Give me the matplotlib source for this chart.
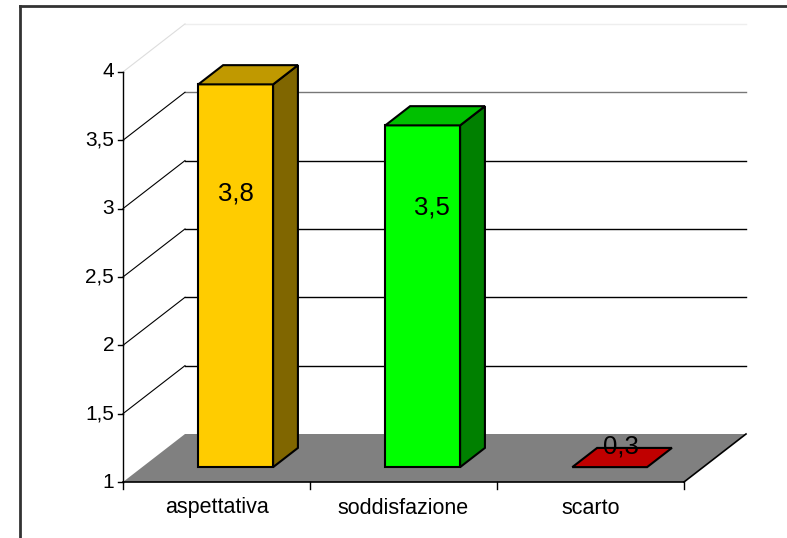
import matplotlib
matplotlib.use("Agg")
import matplotlib.pyplot as plt
from matplotlib.patches import Polygon
from matplotlib.lines import Line2D

# ---- data ----
categories = ["aspettativa", "soddisfazione", "scarto"]
values = [3.8, 3.5, 0.3]
value_labels = ["3,8", "3,5", "0,3"]
front_colors = ["#FFCC00", "#00FF00", "#FF0000"]
top_colors = ["#C09900", "#00C000", "#C00000"]
side_colors = ["#806600", "#008000", "#800000"]
yticks = [1, 1.5, 2, 2.5, 3, 3.5, 4]
ytick_labels = ["1", "1,5", "2", "2,5", "3", "3,5", "4"]
ymin, ymax = 1, 4

# ---- layout (pixel geometry of the 3-D box) ----
W, H = 787, 538
SX = 187.0     # px per category
SY = 136.7     # px per value unit
X0PX, Y0PX = 123, 482   # pixel of (category -0.5, value 1), y from top
DX = 62 / SX   # full depth offset in category units
DY = 48 / SY   # full depth offset in value units
BAR_W = 0.40
D0, D1 = 0.31, 0.71   # bar front / back depth fraction
lbl_dx = [0.0, 0.05, 0.06]
lbl_v = [3.107, 3.01, 1.263]

plt.rcParams["font.family"] = ["Liberation Sans", "DejaVu Sans"]
fig = plt.figure(figsize=(W / 100, H / 100), dpi=100)
ax = fig.add_axes([0, 0, 1, 1])
ax.set_xlim(-0.5 - X0PX / SX, -0.5 + (W - X0PX) / SX)
ax.set_ylim(ymin - (H - Y0PX) / SY, ymin + Y0PX / SY)
ax.axis("off")

n = len(categories)
xl, xr = -0.5, n - 0.5


def P(x, v, d):
    return (x + d * DX, v + d * DY)


# floor
floor = Polygon([P(xl, ymin, 0), P(xr, ymin, 0), P(xr, ymin, 1), P(xl, ymin, 1)],
                closed=True, facecolor="#808080", edgecolor="none", zorder=1)
ax.add_patch(floor)

# gridlines: back wall + left wall diagonals
for t in yticks[1:]:
    col = "black"
    if t == ymax:
        col = "#eeeeee"
    elif t == yticks[-2]:
        col = "#777777"
    bx0, by = P(xl, t, 1)
    bx1, _ = P(xr, t, 1)
    ax.plot([bx0, bx1], [by, by], color=col, lw=1.0, zorder=2)
    ax.plot([xl, bx0], [t, by], color=("#dddddd" if t == ymax else "black"),
            lw=0.8, zorder=2)

# floor front edge and right edge
ax.plot([xl, xr], [ymin, ymin], color="black", lw=1.2, zorder=3)
ax.plot([xr, P(xr, ymin, 1)[0]], [ymin, P(xr, ymin, 1)[1]], color="black", lw=1.2, zorder=3)

# y axis
ax.plot([xl, xl], [ymin, ymax], color="black", lw=1.0, zorder=3)
tick_len_x = 5 / SX
for t, lab in zip(yticks, ytick_labels):
    ax.plot([xl - tick_len_x, xl], [t, t], color="black", lw=1.0, zorder=3)
    ax.text(xl - 9 / SX, t, lab, ha="right", va="center", fontsize=15, zorder=3)

# x ticks and labels
tick_len_y = 7 / SY
for k in range(n + 1):
    x = xl + k
    ax.plot([x, x], [ymin, ymin - tick_len_y], color="black", lw=1.0, zorder=3)
for i, c in enumerate(categories):
    ax.text(i, ymin - 26 / SY, c, ha="center", va="center", fontsize=15.5, zorder=3)

# bars
for i, (v, fc, tc, sc) in enumerate(zip(values, front_colors, top_colors, side_colors)):
    top = max(v, ymin)
    x0, x1 = i - BAR_W / 2, i + BAR_W / 2
    kw = dict(closed=True, edgecolor="black", lw=1.5, joinstyle="miter", zorder=5)
    if top > ymin:
        ax.add_patch(Polygon([P(x0, ymin, D0), P(x1, ymin, D0), P(x1, top, D0), P(x0, top, D0)],
                             facecolor=fc, **kw))
        ax.add_patch(Polygon([P(x1, ymin, D0), P(x1, ymin, D1), P(x1, top, D1), P(x1, top, D0)],
                             facecolor=sc, **kw))
    ax.add_patch(Polygon([P(x0, top, D0), P(x1, top, D0), P(x1, top, D1), P(x0, top, D1)],
                         facecolor=tc, **kw))
    lx, _ = P(i + lbl_dx[i], top, D0)
    ax.text(lx, lbl_v[i], value_labels[i], ha="center", va="center", fontsize=18.5, zorder=6)

# chart area border (left and top edges visible)
fig.add_artist(Line2D([20 / W, 20 / W], [0, 1 - 6 / H], color="#333333", lw=2.0))
fig.add_artist(Line2D([20 / W, 1], [1 - 6 / H, 1 - 6 / H], color="#333333", lw=2.0))

fig.savefig("out.png", dpi=100)
